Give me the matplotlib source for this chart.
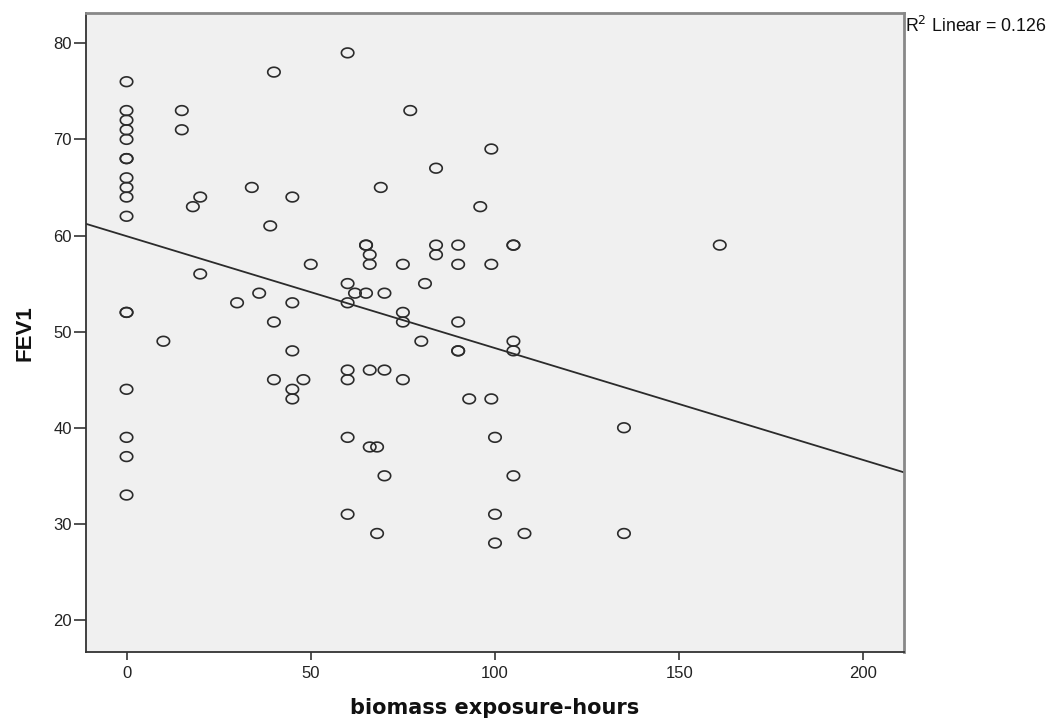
import numpy as np
import matplotlib
matplotlib.use("Agg")
import matplotlib.pyplot as plt
from matplotlib.path import Path

# Biomass exposure (hours) and FEV1 for each participant
exposure_hours = [
    0, 0, 0, 0, 0, 0, 0, 0, 0, 0, 0, 0, 0, 0, 0, 0, 0,
    10, 15, 15, 18, 20, 20, 30, 34, 36, 39,
    40, 40, 40, 45, 45, 45, 45, 45, 48, 50,
    60, 60, 60, 60, 60, 60, 60, 62, 65, 65, 65,
    66, 66, 66, 66, 68, 68, 69, 70, 70, 70,
    75, 75, 75, 75, 77, 80, 81, 84, 84, 84,
    90, 90, 90, 90, 90, 93, 96, 99, 99, 99,
    100, 100, 100, 105, 105, 105, 105, 105, 108,
    135, 135, 161,
]
fev1 = [
    76, 73, 72, 71, 70, 68, 68, 66, 65, 64, 62, 52, 52, 44, 39, 37, 33,
    49, 73, 71, 63, 64, 56, 53, 65, 54, 61,
    77, 51, 45, 64, 53, 48, 44, 43, 45, 57,
    79, 55, 53, 46, 45, 39, 31, 54, 59, 59, 54,
    58, 57, 46, 38, 38, 29, 65, 54, 46, 35,
    57, 52, 51, 45, 73, 49, 55, 67, 59, 58,
    59, 57, 51, 48, 48, 43, 63, 69, 57, 43,
    39, 31, 28, 59, 59, 49, 48, 35, 29,
    40, 29, 59,
]
x_ticks = [0, 50, 100, 150, 200]
y_ticks = [20, 30, 40, 50, 60, 70, 80]
x_label = "biomass exposure-hours"
y_label = "FEV1"
r2_label = "0.126"

x = np.array(exposure_hours, dtype=float)
y = np.array(fev1, dtype=float)

fig = plt.figure(figsize=(10.58, 7.2), dpi=100)
ax = fig.add_axes([86 / 1058, 1 - 652 / 720, (904 - 86) / 1058, (652 - 12.5) / 720])
ax.set_facecolor("#f0f0f0")

xlim = (-11, 211)
ylim = (16.67, 83.2)
ax.set_xlim(*xlim)
ax.set_ylim(*ylim)

# slightly flattened open-circle marker
t = np.linspace(0, 2 * np.pi, 60)
ellipse = Path(np.column_stack([np.cos(t), 0.78 * np.sin(t)]), closed=True)

ax.scatter(x, y, marker=ellipse, s=80, facecolors="none",
           edgecolors="#2b2b2b", linewidths=1.2, zorder=3)

# least-squares fit line across the whole x range
slope, intercept = np.polyfit(x, y, 1)
xx = np.array(xlim)
ax.plot(xx, intercept + slope * xx, color="#2b2b2b", lw=1.3, zorder=2)

ax.set_xticks(x_ticks)
ax.set_yticks(y_ticks)
ax.tick_params(axis="x", length=6, width=1.2, color="#333333", pad=4,
               labelsize=12, labelcolor="#222222")
ax.tick_params(axis="y", length=9, width=1.2, color="#333333", pad=1,
               labelsize=12, labelcolor="#222222")
for lab in ax.get_xticklabels() + ax.get_yticklabels():
    lab.set_family("Liberation Sans")

for side in ("left", "bottom"):
    ax.spines[side].set_color("#333333")
    ax.spines[side].set_linewidth(1.3)
for side in ("top", "right"):
    ax.spines[side].set_color("#888888")
    ax.spines[side].set_linewidth(2.0)

fig.text(494.7 / 1058, 1 - 708 / 720, x_label, ha="center", va="center",
         fontsize=15, fontweight="bold", family="DejaVu Sans", color="#111111")
fig.text(25 / 1058, 1 - 333 / 720, y_label, ha="center", va="center",
         rotation=90, fontsize=16, fontweight="bold", family="Liberation Sans",
         color="#111111")
fig.text(905 / 1058, 1 - 26 / 720, r"R$^2$ Linear = " + r2_label,
         ha="left", va="center", fontsize=12.8, family="Liberation Sans",
         color="#111111")

fig.savefig("out.png", dpi=100)
